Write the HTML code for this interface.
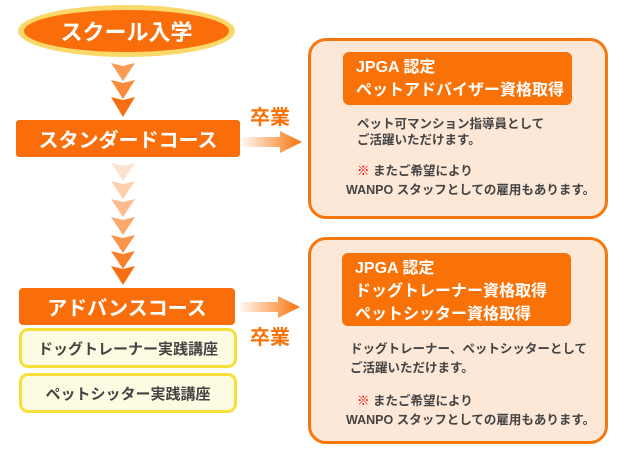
<!DOCTYPE html>
<html><head><meta charset="utf-8"><style>
body{margin:0;width:630px;height:450px;background:#fff;position:relative;overflow:hidden;font-family:"Liberation Sans","Noto Sans CJK JP",sans-serif;font-weight:bold}
.a{position:absolute}
.c{display:flex;align-items:center;justify-content:center;color:#fff}
.y{background:#fefbe3;border:3px solid #f9df3a;border-radius:9px;color:#444;font-size:15px;box-sizing:border-box}
.box{border:3px solid #f7770f;background:#fde7d7;border-radius:18px;box-sizing:border-box}
.hd{background:#f97208;border-radius:6px;color:#fff;font-size:16px;line-height:23px;padding-left:13px;box-sizing:border-box}
.t{color:#444;font-size:12.5px;white-space:nowrap}
.g{color:#f97208;font-size:20px}
</style></head><body>
<div class="a c" style="left:18px;top:5px;width:217px;height:52px;border-radius:50%;background:#fbd86a"></div>
<div class="a c" style="left:24px;top:10px;width:205px;height:42px;border-radius:50%;background:#f96e0a;font-size:22px">スクール入学</div>
<svg class="a" style="left:0;top:0" width="630" height="450">
<g>
<polygon points="111,63 123,66 135,63 123,81" fill="#fb9a52"/>
<polygon points="111,80 123,83 135,80 123,99" fill="#f98a3a"/>
<polygon points="111,97 123,100 135,97 123,117" fill="#f86e10"/>
<polygon points="111,163 123,166 135,163 123,181" fill="#fde3cf"/>
<polygon points="111,181 123,184 135,181 123,199" fill="#fdd0ae"/>
<polygon points="111,199 123,202 135,199 123,217" fill="#fcbc8c"/>
<polygon points="111,217 123,220 135,217 123,235" fill="#fba86c"/>
<polygon points="111,235 123,238 135,235 123,253" fill="#f9954a"/>
<polygon points="111,251 123,254 135,251 123,269" fill="#f8802a"/>
<polygon points="111,266 123,269 135,266 123,285" fill="#f86e10"/>
</g>
<defs><linearGradient id="ag" x1="0" x2="1"><stop offset="0" stop-color="#f97208" stop-opacity="0.05"/><stop offset="1" stop-color="#f97208"/></linearGradient></defs>
<polygon points="242,137 280,137 280,131 302,142 280,153 280,147 242,147" fill="url(#ag)"/>
<polygon points="240,302 278,302 278,296 300,307 278,318 278,312 240,312" fill="url(#ag)"/>
</svg>
<div class="a c" style="left:16px;top:120px;width:224px;height:37px;background:#f96e0a;border-radius:3px;font-size:20px">スタンダードコース</div>
<div class="a g" style="left:250px;top:101px">卒業</div>
<div class="a c" style="left:19px;top:288px;width:216px;height:37px;background:#f96e0a;border-radius:4px;font-size:20px">アドバンスコース</div>
<div class="a g" style="left:250px;top:321px">卒業</div>
<div class="a c y" style="left:19px;top:328px;width:218px;height:40px">ドッグトレーナー実践講座</div>
<div class="a c y" style="left:19px;top:373px;width:218px;height:40px">ペットシッター実践講座</div>

<div class="a box" style="left:308px;top:38px;width:300px;height:181px"></div>
<div class="a hd" style="left:343px;top:52px;width:229px;height:53px;padding-top:4px">JPGA 認定<br>ペットアドバイザー資格取得</div>
<div class="a t" style="left:357px;top:116px;line-height:16px">ペット可マンション指導員として<br>ご活躍いただけます。</div>
<div class="a t" style="left:357px;top:160px"><span style="color:#e00">※</span> またご希望により</div>
<div class="a t" style="left:346px;top:179px">WANPO スタッフとしての雇用もあります。</div>

<div class="a box" style="left:308px;top:237px;width:300px;height:207px"></div>
<div class="a hd" style="left:342px;top:253px;width:229px;height:73px;padding-top:4px">JPGA 認定<br>ドッグトレーナー資格取得<br>ペットシッター資格取得</div>
<div class="a t" style="left:350px;top:340px;line-height:19px">ドッグトレーナー、ペットシッターとして<br>ご活躍いただけます。</div>
<div class="a t" style="left:357px;top:390px"><span style="color:#e00">※</span> またご希望により</div>
<div class="a t" style="left:346px;top:409px">WANPO スタッフとしての雇用もあります。</div>
</body></html>
